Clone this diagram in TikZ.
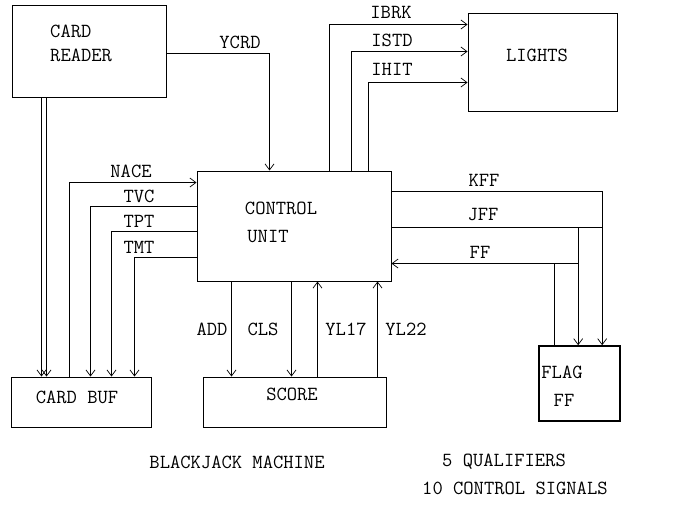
\documentclass[tikz,border=0pt]{standalone}
\usepackage{tikz}
\usetikzlibrary{arrows.meta}

\begin{document}
\begin{tikzpicture}[x=1pt,y=-1pt,
    font=\ttfamily\fontsize{20}{23}\selectfont,
    blok/.style={draw,line width=1pt,inner sep=0pt},
    sig/.style={line width=0.7pt,-{Straight Barb[length=6pt,width=9pt]}},
    ff/.style={line width=1.4pt,-{Straight Barb[length=6pt,width=9pt,line width=0.7pt]}},
    lbl/.style={inner sep=1pt}]
    \useasboundingbox (0,0) rectangle (695,504);

    % Блоки
    \node[blok,minimum width=154pt,minimum height=92pt] (reader) at (89,51) {};
    \node[blok,minimum width=194pt,minimum height=110pt] (ctrl) at (294,226) {};
    \node[blok,minimum width=149pt,minimum height=98pt] (lights) at (542.5,62) {};
    \node[blok,minimum width=140pt,minimum height=50pt] (buf) at (81,402) {};
    \node[blok,minimum width=183pt,minimum height=50pt] (score) at (294.5,402) {};
    \node[blok,line width=1.6pt,minimum width=81pt,minimum height=75pt] (flag) at (579.5,383.5) {};

    % Написи в блоках
    \node[lbl,anchor=west] (t-card) at (49,31) {CARD};
    \node[lbl,anchor=west] (t-reader) at (49,55) {READER};
    \node[lbl] (t-control) at (281,208) {CONTROL};
    \node[lbl] (t-unit) at (268,237) {UNIT};
    \node[lbl] (t-lights) at (537,55) {LIGHTS};
    \node[lbl] (t-buf) at (77,397) {CARD BUF};
    \node[lbl] (t-score) at (292,394) {SCORE};
    \node[lbl] (t-flag) at (562,372) {FLAG};
    \node[lbl] (t-ff) at (564,400) {FF};

    % Зчитувач -> буфер (подвійна лінія)
    \draw[sig] ([xshift=30pt]reader.south west) -- ([xshift=31pt]buf.north west);
    \draw[sig] ([xshift=35pt]reader.south west) -- ([xshift=36pt]buf.north west);

    % YCRD
    \draw[sig] ([yshift=-2pt]reader.east) -| ([xshift=73pt]ctrl.north west);
    \node[lbl] (l-ycrd) at (240,42) {YCRD};

    % Сигнали на LIGHTS
    \draw[sig] ([xshift=133pt]ctrl.north west) |- ([yshift=-12pt]lights.north west);
    \draw[sig] ([xshift=155pt]ctrl.north west) |- ([yshift=-39pt]lights.north west);
    \draw[sig] ([xshift=172pt]ctrl.north west) |- ([yshift=-70pt]lights.north west);
    \node[lbl] (l-ibrk) at (391,13) {IBRK};
    \node[lbl] (l-istd) at (392,40) {ISTD};
    \node[lbl] (l-ihit) at (392,69) {IHIT};

    % Сигнали між CONTROL і CARD BUF
    \draw[sig] ([xshift=59pt]buf.north west) |- ([yshift=-12pt]ctrl.north west);
    \draw[sig] ([yshift=-36pt]ctrl.north west) -| ([xshift=80pt]buf.north west);
    \draw[sig] ([yshift=-61pt]ctrl.north west) -| ([xshift=101pt]buf.north west);
    \draw[sig] ([yshift=-87pt]ctrl.north west) -| ([xshift=124pt]buf.north west);
    \node[lbl] (l-nace) at (131,171) {NACE};
    \node[lbl] (l-tvc) at (139,196) {TVC};
    \node[lbl] (l-tpt) at (139,221) {TPT};
    \node[lbl] (l-tmt) at (139,247) {TMT};

    % Сигнали між CONTROL і SCORE
    \draw[sig] ([xshift=35pt]ctrl.south west) -- ([xshift=29pt]score.north west);
    \draw[sig] ([xshift=95pt]ctrl.south west) -- ([xshift=89pt]score.north west);
    \draw[sig] ([xshift=115pt]score.north west) -- ([xshift=121pt]ctrl.south west);
    \draw[sig] ([xshift=175pt]score.north west) -- ([xshift=181pt]ctrl.south west);
    \node[lbl] (l-add) at (212,329) {ADD};
    \node[lbl] (l-cls) at (263,329) {CLS};
    \node[lbl] (l-yl17) at (346,329) {YL17};
    \node[lbl] (l-yl22) at (406,329) {YL22};

    % Тригер FLAG FF
    \draw[ff] ([yshift=-21pt]ctrl.north east) -| ([xshift=64pt]flag.north west);
    \draw[ff] ([yshift=-57pt]ctrl.north east) -| ([xshift=40pt]flag.north west);
    \draw[line width=1.4pt] ([yshift=-57pt]ctrl.north east) -- ([yshift=-57pt,xshift=64pt]flag.north west |- ctrl.north east);
    \draw[ff] ([xshift=16pt]flag.north west) |- ([yshift=-93pt]ctrl.north east);
    \draw[line width=1.4pt] ([xshift=16pt]flag.north west) |- ([yshift=-93pt,xshift=40pt]flag.north west |- ctrl.north east);
    \node[lbl] (l-kff) at (484,180) {KFF};
    \node[lbl] (l-jff) at (483,215) {JFF};
    \node[lbl] (l-ff) at (480,252) {FF};

    % Підписи внизу
    \node[lbl] (title) at (237,462) {BLACKJACK MACHINE};
    \node[lbl,anchor=west] (qual) at (441,462) {5 QUALIFIERS};
    \node[lbl,anchor=west] (ctrlsig) at (421,488) {10 CONTROL SIGNALS};
\end{tikzpicture}
\end{document}
